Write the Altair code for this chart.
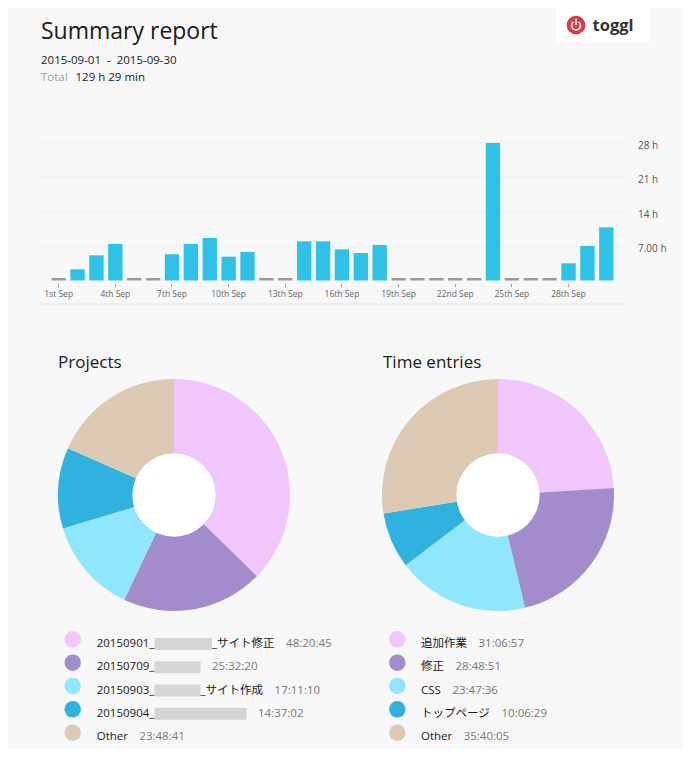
import math
import altair as alt
import pandas as pd

# ---------------- data ----------------
def ordinal(n):
    if 10 <= n % 100 <= 20:
        suf = "th"
    else:
        suf = {1: "st", 2: "nd", 3: "rd"}.get(n % 10, "th")
    return f"{n}{suf}"

days = [ordinal(d) + " Sep" for d in range(1, 31)]
hours = [0, 2.27, 5.10, 7.39, 0, 0, 5.31, 7.39, 8.61, 4.82,
         5.77, 0, 0, 7.94, 7.94, 6.32, 5.57, 7.19, 0, 0,
         0, 0, 0, 27.86, 0, 0, 0, 3.48, 6.99, 10.78]
tick_days = [ordinal(d) + " Sep" for d in range(1, 31, 3)]
y_ticks = [7, 14, 21, 28]

# project names: visible prefix, blurred (hidden) part, visible suffix
proj_prefix = ["20150901_", "20150709_", "20150903_", "20150904_", "Other"]
proj_hidden = ["〇〇〇〇〇", "〇〇〇〇", "〇〇〇〇", "〇〇〇〇〇〇〇〇", ""]
proj_suffix = ["_サイト修正", "", "_サイト作成", "", ""]
proj_dur = ["48:20:45", "25:32:20", "17:11:10", "14:37:02", "23:48:41"]

entry_names = ["追加作業", "修正", "CSS", "トップページ", "Other"]
entry_dur = ["31:06:57", "28:48:51", "23:47:36", "10:06:29", "35:40:05"]

slice_colors = ["#f0c6fd", "#a38ccb", "#8fe6fd", "#31b2de", "#dccab2"]

NB = "\u00a0"
title_text = "Summary report"
date_text = f"2015-09-01{NB}{NB}-{NB}{NB}2015-09-30"
total_label = "Total"
total_value = "129 h 29 min"

# ---------------- layout constants ----------------
W, H = 674, 741
BG = "#f8f8f8"
FONT = "Open Sans, DejaVu Sans, Noto Sans CJK JP"
BAR_X = [32, 617]
BAR_Y = [272.5, 134.3]
STUB = 0.5
LEG_FS = 11.5
LEG_GAP = 11.5

# approximate Open Sans advance widths (em) for legend layout
_W = {c: 0.5718 for c in "0123456789"}
_W.update({"_": 0.448, ":": 0.266, "O": 0.781, "t": 0.344, "h": 0.614, "e": 0.561,
           "r": 0.408, "C": 0.633, "S": 0.550, " ": 0.26})


def text_width(s, size):
    return sum(_W.get(c, 1.0 if ord(c) >= 0x2E80 else 0.6) for c in s) * size


def to_hours(s):
    h, m, sec = (int(v) for v in s.split(":"))
    return h + m / 60 + sec / 3600


bars_df = pd.DataFrame({"day": days, "hours": hours})
bars_df["stub"] = STUB

x_scale = alt.Scale(domain=days, range=BAR_X, paddingInner=0.24, paddingOuter=0.61)
x_enc = alt.X("day:N", sort=days, scale=x_scale,
              axis=alt.Axis(values=tick_days, title=None, domain=False, grid=False,
                            labelFont=FONT, labelFontSize=8.5, labelColor="#666",
                            tickColor="#999", tickSize=3, labelPadding=3,
                            labelAngle=0, offset=275.5 - H))
y_scale = alt.Scale(domain=[0, 28], range=BAR_Y, nice=False, zero=True)

grid = alt.Chart(pd.DataFrame({"v": y_ticks})).mark_rule(
    color="#e8e8e8", strokeDash=[2, 2], strokeWidth=1
).encode(
    y=alt.Y("v:Q", scale=y_scale, axis=None),
    x=alt.value(BAR_X[0]), x2=alt.value(BAR_X[1]),
)

bars = alt.Chart(bars_df).transform_filter("datum.hours > 0").mark_bar(color="#2ec2e6").encode(
    x=x_enc,
    y=alt.Y("hours:Q", scale=y_scale,
            axis=alt.Axis(orient="right", values=y_ticks, title=None, domain=False, ticks=False,
                          tickSize=0, grid=False,
                          labelExpr="datum.value == 7 ? '7.00 h' : datum.value + ' h'",
                          labelFont=FONT, labelFontSize=10, labelColor="#555",
                          labelPadding=12.5, labelOffset=3, offset=BAR_X[1] - W)),
)
stubs = alt.Chart(bars_df).transform_filter("datum.hours == 0").mark_bar(color="#999999").encode(
    x=alt.X("day:N", sort=days, scale=x_scale, axis=None),
    y=alt.Y("stub:Q", scale=y_scale, axis=None),
)
one = pd.DataFrame({"v": [0]})
base_rule = alt.Chart(one).mark_rule(color="#e6e6e6").encode(
    x=alt.value(BAR_X[0]), x2=alt.value(BAR_X[1]), y=alt.value(296))

color_enc = alt.Color("rank:O", scale=alt.Scale(domain=list(range(5)), range=slice_colors), legend=None)


def text_layer(txt, x, y, size, color="#222", weight="normal", baseline="alphabetic"):
    return alt.Chart(pd.DataFrame({"t": [txt]})).mark_text(
        align="left", baseline=baseline, font=FONT, fontSize=size, color=color, fontWeight=weight
    ).encode(x=alt.value(x), y=alt.value(y), text="t:N")


def pie_layers(durs, cx, cy):
    df = pd.DataFrame({"rank": list(range(5)), "hours": [to_hours(d) for d in durs]})
    pie = alt.Chart(df).mark_arc(outerRadius=116, innerRadius=0).encode(
        theta=alt.Theta("hours:Q", stack=True),
        order=alt.Order("rank:Q", sort="ascending"),
        color=color_enc,
        x=alt.value(cx), y=alt.value(cy),
    )
    hole = alt.Chart(one).mark_circle(size=math.pi * 47 * 47, color="white", opacity=1).encode(
        x=alt.value(cx), y=alt.value(cy))
    return [pie, hole]


def legend_layers(prefixes, hidden, suffixes, durs, cx, tx):
    recs = []
    for rank, (p, hd, s, d) in enumerate(zip(prefixes, hidden, suffixes, durs)):
        x = tx
        for txt, kind in ((p, "name"), (hd, "hidden"), (s, "name")):
            if txt:
                w = text_width(txt, LEG_FS)
                recs.append(dict(rank=rank, t=txt, kind=kind, x0=x, x1=x + w))
                x += w
        x += LEG_GAP
        recs.append(dict(rank=rank, t=d, kind="dur", x0=x, x1=x + text_width(d, LEG_FS)))
    df = pd.DataFrame(recs)
    dots_df = pd.DataFrame({"rank": list(range(5))})

    ydot = alt.Y("rank:O", scale=alt.Scale(type="point", domain=list(range(5)), range=[631.3, 724.7], padding=0), axis=None)
    ytxt = alt.Y("rank:O", scale=alt.Scale(type="point", domain=list(range(5)), range=[636.0, 729.0], padding=0), axis=None)
    xpos = alt.X("x0:Q", scale=None, axis=None)

    dots = alt.Chart(dots_df).mark_circle(size=math.pi * 9.3 * 9.3, opacity=1).encode(
        x=alt.value(cx), y=ydot, color=color_enc)
    blur = alt.Chart(df).transform_filter("datum.kind == 'hidden'").mark_rule(
        color="#d0d0d0", strokeWidth=12, opacity=0.9
    ).encode(x=xpos, x2="x1:Q", y=ytxt)
    names = alt.Chart(df).transform_filter("datum.kind == 'name'").mark_text(
        align="left", baseline="middle", font=FONT, fontSize=LEG_FS, color="#1a1a1a"
    ).encode(x=xpos, y=ytxt, text="t:N")
    dur = alt.Chart(df).transform_filter("datum.kind == 'dur'").mark_text(
        align="left", baseline="middle", font=FONT, fontSize=LEG_FS, color="#777"
    ).encode(x=xpos, y=ytxt, text="t:N")
    return [dots, blur, names, dur]


layers = [
    grid, bars, stubs, base_rule,
    text_layer(title_text, 33, 31.3, 23, "#1a1a1a"),
    text_layer(date_text, 33, 56, 11.5, "#1a1a1a"),
    text_layer(total_label, 33, 72.5, 11.5, "#999"),
    text_layer(total_value, 67.5, 72.5, 11.5, "#1a1a1a"),
    # logo
    alt.Chart(one).mark_rect(color="white").encode(
        x=alt.value(548), x2=alt.value(641), y=alt.value(0), y2=alt.value(34)),
    alt.Chart(one).mark_circle(size=math.pi * 10.5 * 10.5, color="#e2373f", opacity=1).encode(
        x=alt.value(568), y=alt.value(17)),
    alt.Chart(one).mark_arc(innerRadius=3.6, outerRadius=5.3, theta=0.65, theta2=2 * math.pi - 0.65,
                            color="white").encode(x=alt.value(568), y=alt.value(17.5)),
    alt.Chart(one).mark_rule(color="white", strokeWidth=1.7, strokeCap="round").encode(
        x=alt.value(568), y=alt.value(11), y2=alt.value(16.5)),
    text_layer("toggl", 584.5, 22.5, 16.5, "#333", "bold"),
    # section titles
    text_layer("Projects", 50, 360, 17, "#1a1a1a"),
    text_layer("Time entries", 375, 360, 17, "#1a1a1a"),
]
layers += pie_layers(proj_dur, 166, 487)
layers += pie_layers(entry_dur, 490, 487)
layers += legend_layers(proj_prefix, proj_hidden, proj_suffix, proj_dur, 64.7, 88.7)
layers += legend_layers(entry_names, [""] * 5, [""] * 5, entry_dur, 389.3, 413)

chart = alt.layer(*layers).resolve_scale(
    x="independent", y="independent", theta="independent"
).properties(
    width=W, height=H, padding=0, autosize=alt.AutoSizeParams(type="none"), background=BG
).configure_view(stroke=None)

chart.save("out.html", embed_options={"renderer": "svg", "actions": False})
